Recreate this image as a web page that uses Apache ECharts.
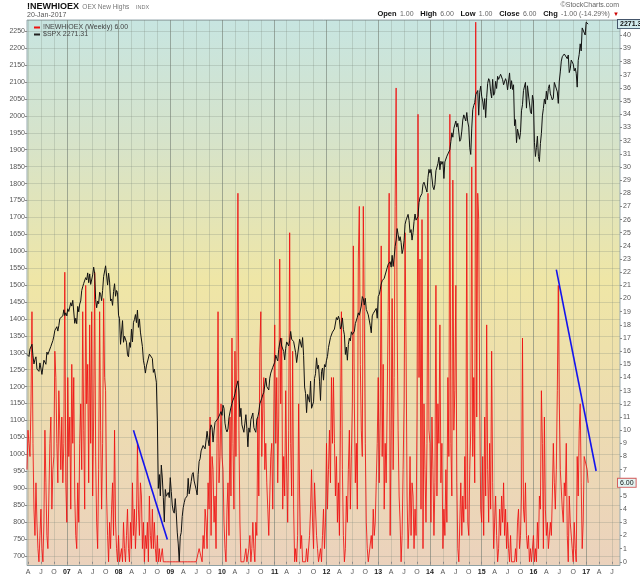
<!DOCTYPE html>
<html>
<head>
<meta charset="utf-8">
<script src="https://cdn.jsdelivr.net/npm/echarts@6/dist/echarts.min.js"></script>
<style>
html,body{margin:0;padding:0;background:#ffffff;}
#chart{width:640px;height:576px;}
</style>
</head>
<body>
<div id="chart"></div>
<script>
// ---- axis: weekly categories (Fridays) ----
const firstWeek = '2006-03-31';
const weekCount = 597;

// ---- $SPX weekly closes ----
const spx2006 = [1295,1297,1289,1311,1310,1325,1291,1267,1280,1288,1252,1251,1245,1270,1265,1236,1240,1278,1280,1266,1302,1295,1303,1299,1319,1314,1336,1349,1366,1368,1377,1364,1380,1401,1400,1396,1409,1427,1410,1418];
const spx2007 = [1409,1430,1422,1420,1448,1438,1455,1451,1387,1402,1386,1437,1421,1444,1453,1484,1495,1505,1505,1522,1515,1536,1507,1533,1502,1503,1530,1553,1534,1458,1433,1453,1445,1479,1473,1454,1484,1525,1527,1557,1562,1500,1535,1509,1453,1459,1440,1481,1504,1467,1484,1478];
const spx2008 = [1411,1401,1325,1330,1395,1331,1349,1353,1331,1294,1288,1330,1316,1370,1332,1390,1398,1413,1389,1426,1375,1400,1361,1361,1318,1278,1262,1240,1261,1257,1260,1296,1298,1292,1283,1242,1252,1255,1213,1099,899,940,877,968,930,873,800,896,876,880,887,872];
const spx2009 = [931,890,850,832,826,869,827,770,735,683,756,769,816,842,857,869,866,877,929,883,887,919,940,946,921,918,896,880,940,979,987,1010,1005,1026,1029,1016,1042,1068,1044,1025,1071,1087,1079,1036,1069,1094,1091,1092,1106,1102,1102,1126];
const spx2010 = [1115,1145,1136,1092,1074,1066,1075,1109,1105,1139,1150,1160,1167,1179,1194,1192,1217,1187,1111,1136,1087,1089,1065,1092,1117,1076,1022,1078,1065,1102,1101,1122,1079,1071,1065,1104,1110,1125,1149,1147,1166,1176,1183,1183,1225,1200,1199,1190,1225,1240,1244,1257,1258];
const spx2011 = [1272,1293,1283,1276,1310,1329,1343,1320,1321,1304,1279,1313,1332,1328,1320,1337,1363,1340,1338,1333,1331,1300,1271,1271,1268,1340,1344,1316,1345,1292,1199,1179,1123,1177,1174,1154,1216,1136,1131,1155,1224,1238,1285,1253,1263,1216,1159,1244,1255,1219,1265,1258];
const spx2012 = [1278,1289,1315,1316,1345,1342,1361,1366,1370,1370,1404,1397,1408,1398,1370,1379,1403,1369,1353,1295,1317,1278,1325,1343,1335,1362,1354,1357,1363,1386,1391,1405,1418,1411,1406,1438,1466,1460,1441,1461,1428,1433,1412,1414,1380,1359,1409,1416,1418,1413,1431,1402];
const spx2013 = [1466,1472,1486,1503,1513,1518,1520,1516,1515,1551,1561,1556,1569,1553,1588,1555,1583,1614,1633,1667,1650,1631,1643,1626,1593,1606,1632,1680,1692,1691,1709,1691,1655,1664,1633,1655,1688,1710,1692,1690,1703,1744,1759,1762,1771,1798,1804,1806,1805,1775,1818,1842];
const spx2014 = [1831,1842,1838,1790,1782,1797,1838,1836,1859,1878,1841,1866,1857,1865,1815,1864,1863,1881,1878,1877,1900,1924,1950,1937,1963,1961,1985,1967,1978,1978,1925,1931,1955,1988,2003,2007,1985,2010,1982,1967,1906,1886,1964,2018,2031,2039,2063,2067,2075,2002,2070,2088];
const spx2015 = [2058,2044,2019,2051,1995,2055,2096,2110,2104,2071,2053,2108,2061,2067,2102,2081,2117,2108,2116,2123,2126,2107,2092,2094,2110,2101,2077,2077,2127,2080,2104,2078,2092,1971,1989,1921,1961,1958,1931,1951,2015,2033,2075,2079,2099,2023,2089,2090,2092,2012,2006,2061];
const spx2016 = [2044,1922,1880,1907,1940,1880,1865,1918,1948,2000,2022,2050,2035,2073,2048,2081,2092,2065,2057,2047,2053,2099,2099,2096,2071,2037,2103,2130,2162,2175,2173,2183,2184,2183,2169,2180,2128,2139,2165,2168,2153,2133,2141,2126,2085,2164,2182,2213,2192,2260,2259,2264,2239];
const spx2017 = [2277,2275,2271.31];

// ---- !NEWHIOEX weekly values ----
const nh2006 = [7,10,9,8,12,19,9,4,2,6,3,1,0,2,4,1,0,3,10,6,2,1,5,9,11,4,7,8,16,14,9,6,13,10,7,11,6,9,22,6];
const nh2007 = [3,14,8,11,4,15,9,14,5,2,1,6,3,9,12,7,19,10,4,21,12,15,6,18,9,19,5,11,22,8,3,1,7,19,10,4,9,20,14,13,5,2,0,3,1,4,6,2,10,3,1,0];
const nh2008 = [2,0,0,1,0,3,1,0,2,4,1,0,3,1,6,2,4,1,3,9,4,2,6,5,1,3,0,2,1,3,0,5,2,1,4,1,3,1,0,2,0,1,0,0,1,0,0,0,0,0,0,0];
const nh2009 = [0,0,0,0,0,0,0,0,0,0,0,0,0,0,0,0,0,0,0,0,0,0,0,0,0,0,0,0,0,1,1,1,0,2,1,4,3,1,6,4,11,2,8,7,3,5,1,9,19,6,8,12];
const nh2010 = [8,7,3,1,0,4,6,2,11,5,17,9,4,16,8,16,28,10,3,0,0,0,0,0,1,0,0,1,2,0,1,3,1,0,3,2,11,5,16,19,8,12,14,7,9,6,4,2,5,8,9,4,11];
const nh2011 = [18,9,14,6,11,23,12,17,4,8,5,13,7,3,10,25,9,5,16,4,0,1,0,2,12,5,1,2,0,0,0,0,1,0,0,2,4,7,3,1,6,4,2,1,0,0,1,0,2,4,1,3];
const nh2012 = [9,4,7,10,6,14,9,14,9,5,8,3,6,2,10,19,7,2,0,1,5,3,7,10,4,8,12,24,12,6,9,4,23,27,15,10,8,27,19,9,3,1,0,0,0,2,1,4,2,3,6,9];
const nh2013 = [14,6,11,24,8,15,4,9,6,12,19,28,2,10,20,7,14,27,36,18,10,5,3,0,2,7,12,25,16,5,1,3,8,2,6,5,1,4,2,11,34,14,23,4,26,1,12,7,3,9,28,10];
const nh2014 = [9,3,11,7,2,6,21,5,12,9,18,6,9,1,4,2,7,3,14,8,34,9,5,29,10,13,21,6,1,0,3,6,2,5,3,8,4,28,3,2,7,10,30,8,14,6,41,11,28,26,12,4];
const nh2015 = [3,8,2,11,5,18,7,3,9,4,16,6,1,3,5,2,0,1,4,2,5,3,6,2,4,1,3,1,0,2,0,0,0,0,1,0,3,4,1,2,5,17,4,3,6,2,1,2,0,1,0,0];
const nh2016 = [2,0,1,0,3,1,5,4,13,9,1,11,4,2,3,1,1,3,2,5,9,6,4,7,13,21,12,7,7,4,3,6,5,9,2,0,5,3,3,1,0,3,1,0,8,5,10,12,6,1,3,8,8];
const nh2017 = [8,7,6];

// ---- annotation trend lines (date, value on right axis) ----
const trendA = [['2008-04-18', 10.0], ['2008-12-12', 1.7]];
const trendB = [['2016-06-10', 22.2], ['2017-03-17', 6.9]];

// ---- labels ----
const nhName = '!NEWHIOEX (Weekly) 6.00';
const spxName = '$SPX 2271.31';
const spxLast = 2271.31;
const nhLast = 6.00;

const spxValues = [].concat(spx2006, spx2007, spx2008, spx2009, spx2010, spx2011, spx2012, spx2013, spx2014, spx2015, spx2016, spx2017);
const newHighs = [].concat(nh2006, nh2007, nh2008, nh2009, nh2010, nh2011, nh2012, nh2013, nh2014, nh2015, nh2016, nh2017);

const weeks = [];
const t0 = Date.parse(firstWeek + 'T00:00:00Z');
for (let i = 0; i < weekCount; i++) {
  weeks.push(new Date(t0 + i * 7 * 86400000).toISOString().slice(0, 10));
}
function monthOf(v) { return +v.slice(5, 7); }
function isQuarter(v) { const m = monthOf(v), d = +v.slice(8, 10); return (m === 1 || m === 4 || m === 7 || m === 10) && d <= 7; }
function isYear(v) { return monthOf(v) === 1 && +v.slice(8, 10) <= 7; }

const FONT = 'Liberation Sans, Arial, sans-serif';
const chart = echarts.init(document.getElementById('chart'), null, { renderer: 'canvas' });

const option = {
  animation: false,
  textStyle: { fontFamily: FONT },
  grid: {
    left: 27, right: 20, top: 20, bottom: 10.5,
    show: true,
    borderColor: '#98aab0', borderWidth: 1,
    backgroundColor: {
      type: 'linear', x: 0, y: 0, x2: 0, y2: 1,
      colorStops: [
        { offset: 0, color: '#c7e5e1' },
        { offset: 0.22, color: '#d6e3ca' },
        { offset: 0.48, color: '#efe6a6' },
        { offset: 0.72, color: '#eddcb0' },
        { offset: 1, color: '#ebd2bd' }
      ]
    }
  },
  legend: {
    orient: 'vertical', left: 29, top: 19,
    itemWidth: 6, itemHeight: 2, itemGap: 0, icon: 'rect',
    data: [nhName, spxName],
    textStyle: { fontSize: 7, color: '#444', fontFamily: FONT, lineHeight: 7, padding: [0, 0, 0, -2] }
  },
  graphic: [
    { id: 'title', type: 'text', x: 27, y: 7, style: {
        text: '{t|!NEWHIOEX} {s|OEX New Highs}  {u|INDX}',
        verticalAlign: 'middle',
        rich: {
          t: { fontWeight: 'bold', fontSize: 9, fill: '#111', fontFamily: FONT },
          s: { fontSize: 6.5, fill: '#777', fontFamily: FONT },
          u: { fontSize: 5.5, fill: '#777', fontFamily: FONT }
        }
      } },
    { id: 'date', type: 'text', x: 27, y: 15, style: { text: '20-Jan-2017', fill: '#555', font: '7px ' + FONT, verticalAlign: 'middle' } },
    { id: 'brand', type: 'text', x: 619, y: 5, style: { text: '\u00A9StockCharts.com', fill: '#666', font: '7px ' + FONT, align: 'right', verticalAlign: 'middle' } },
    { id: 'ohlc', type: 'text', x: 619, y: 14, style: {
        text: '{b|Open} {v|1.00}  {b|High} {v|6.00}  {b|Low} {v|1.00}  {b|Close} {v|6.00}  {b|Chg} {v|-1.00 (-14.29%)} {r|\u25BC}',
        align: 'right', verticalAlign: 'middle',
        rich: {
          b: { fontWeight: 'bold', fontSize: 7.5, fill: '#111', fontFamily: FONT },
          v: { fontSize: 7, fill: '#666', fontFamily: FONT },
          r: { fontSize: 6, fill: '#cc0000', fontFamily: FONT }
        }
      } }
  ],
  xAxis: [
    {
      type: 'category', data: weeks, boundaryGap: false,
      axisLine: { show: false },
      axisTick: { show: true, length: 2, interval: (i, v) => isQuarter(v), lineStyle: { color: '#888' } },
      axisLabel: {
        interval: (i, v) => isQuarter(v),
        margin: 3, fontSize: 7, color: '#555', fontFamily: FONT,
        formatter: v => {
          const m = monthOf(v);
          if (m === 1) return '{y|' + v.slice(2, 4) + '}';
          return m === 4 ? 'A' : m === 7 ? 'J' : 'O';
        },
        rich: { y: { fontWeight: 'bold', fontSize: 7, color: '#222', fontFamily: FONT } }
      },
      splitLine: { show: true, interval: (i, v) => isQuarter(v), lineStyle: { color: 'rgba(120,130,120,0.25)', width: 1 } }
    },
    {
      type: 'category', data: weeks, boundaryGap: false, position: 'bottom',
      axisLine: { show: false }, axisTick: { show: false }, axisLabel: { show: false },
      splitLine: { show: true, interval: (i, v) => isYear(v), lineStyle: { color: 'rgba(110,120,110,0.45)', width: 1 } }
    }
  ],
  yAxis: [
    {
      type: 'value', position: 'left', min: 671.3, max: 2283.4, splitNumber: 32,
      axisLine: { show: false },
      axisTick: { show: true, length: 2, lineStyle: { color: '#888' } },
      axisLabel: {
        fontSize: 7, color: '#555', margin: 2, fontFamily: FONT,
        showMinLabel: false, showMaxLabel: false,
        formatter: v => (Math.abs(v % 50) < 1e-6 ? String(v) : '')
      },
      splitLine: { show: true, lineStyle: { color: 'rgba(120,130,120,0.25)', width: 1 } }
    },
    {
      type: 'value', position: 'right', min: -0.281, max: 41.163, splitNumber: 41,
      axisLine: { show: false },
      axisTick: { show: true, length: 2, lineStyle: { color: '#888' } },
      axisLabel: {
        fontSize: 7, color: '#555', margin: 3, fontFamily: FONT,
        showMinLabel: false, showMaxLabel: false,
        formatter: v => (Math.abs(v - Math.round(v)) < 1e-6 && v >= 0 && v <= 40 ? String(Math.round(v)) : '')
      },
      splitLine: { show: false }
    }
  ],
  series: [
    {
      name: nhName, type: 'line', xAxisIndex: 0, yAxisIndex: 1,
      data: newHighs, showSymbol: false, symbol: 'none',
      lineStyle: { color: '#ee1010', width: 1, opacity: 0.85 },
      itemStyle: { color: '#ee1010' },
      z: 2
    },
    {
      name: spxName, type: 'line', xAxisIndex: 0, yAxisIndex: 0,
      data: spxValues, showSymbol: false, symbol: 'none',
      lineStyle: { color: '#111', width: 1 },
      itemStyle: { color: '#222' },
      z: 3
    },
    {
      name: 'trendA', type: 'line', xAxisIndex: 0, yAxisIndex: 1,
      data: trendA, showSymbol: false, symbol: 'none',
      lineStyle: { color: '#1414ee', width: 1.6 }, z: 4
    },
    {
      name: 'trendB', type: 'line', xAxisIndex: 0, yAxisIndex: 1,
      data: trendB, showSymbol: false, symbol: 'none',
      lineStyle: { color: '#1414ee', width: 1.6 }, z: 4
    }
  ]
};
chart.setOption(option);

// value tags on the right axis, placed through the axes' own scales
const plotRight = chart.convertToPixel({ xAxisIndex: 0 }, weeks[weeks.length - 1]);
const ySpx = chart.convertToPixel({ yAxisIndex: 0 }, spxLast);
const yNh = chart.convertToPixel({ yAxisIndex: 1 }, nhLast);
chart.setOption({
  graphic: [
    { id: 'tagSpx', type: 'text', x: plotRight - 2, y: ySpx, z: 100, style: {
        text: String(spxLast), font: 'bold 7px ' + FONT, fill: '#111', verticalAlign: 'middle',
        backgroundColor: '#d3ecef', borderColor: '#44556a', borderWidth: 1, padding: [1, 2, 0, 2]
      } },
    { id: 'tagNh', type: 'text', x: plotRight - 2, y: yNh, z: 100, style: {
        text: nhLast.toFixed(2), font: '7px ' + FONT, fill: '#111', verticalAlign: 'middle',
        backgroundColor: '#e2f4f2', borderColor: '#d46060', borderWidth: 1, padding: [1, 2, 0, 2]
      } }
  ]
});
</script>
</body>
</html>
